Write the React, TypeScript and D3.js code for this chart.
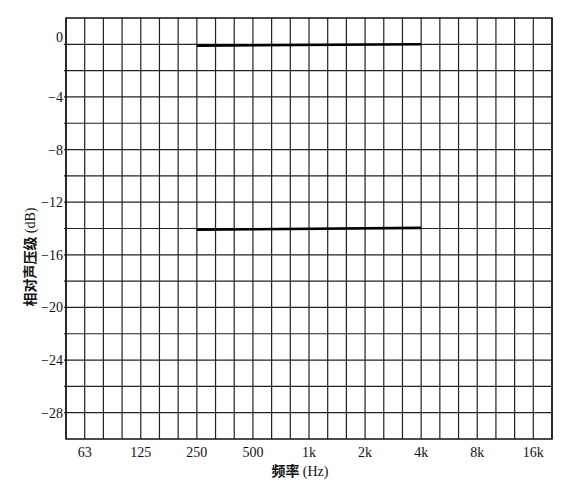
import React from "react";
import * as d3 from "d3";

const bandLabels = ["50","63","80","100","125","160","200","250","315","400","500","630","800","1k","1.25k","1.6k","2k","2.5k","3.15k","4k","5k","6.3k","8k","10k","12.5k","16k","20k"];
const tickBands = ["63","125","250","500","1k","2k","4k","8k","16k"];
const yTicks = [0,-4,-8,-12,-16,-20,-24,-28];
const yGrid = [0,-2,-4,-6,-8,-10,-12,-14,-16,-18,-20,-22,-24,-26,-28];
const lineBands = ["250","4k"];
const upperLevels = [-0.1, 0];
const lowerLevels = [-14.1, -13.95];

const W = 569, H = 481;
const left = 66, right = 552, top = 18, bottom = 439;

export default function App() {
  const x = d3.scalePoint<string>().domain(bandLabels).range([left, right]).padding(0);
  const y = d3.scaleLinear().domain([-30, 2]).range([bottom, top]);
  const line = d3.line<[string, number]>().x(d => x(d[0]) as number).y(d => y(d[1]));
  const serif = "'Liberation Serif', 'DejaVu Serif', serif";
  const cjk = "'Noto Sans CJK SC', sans-serif";
  return (
    <div style={{ position: "absolute", left: 0, top: 0 }}>
      <svg width={W} height={H} style={{ display: "block", background: "#fff" }}>
        {bandLabels.map(b => (
          <line key={b} x1={x(b)} x2={x(b)} y1={top} y2={bottom} stroke="#222" strokeWidth={1.2} />
        ))}
        {yGrid.map(v => (
          <line key={v} x1={left - 2} x2={right} y1={y(v)} y2={y(v)} stroke="#222" strokeWidth={1.2} />
        ))}
        <rect x={left} y={top} width={right - left} height={bottom - top} fill="none" stroke="#111" strokeWidth={1.5} />
        <path d={line(lineBands.map((b, i) => [b, upperLevels[i]]) as any) || ""} fill="none" stroke="#000" strokeWidth={2.6} />
        <path d={line(lineBands.map((b, i) => [b, lowerLevels[i]]) as any) || ""} fill="none" stroke="#000" strokeWidth={2.6} />
        {yTicks.map(v => (
          <text key={v} x={63} y={y(v) + (v === 0 ? -2 : 5)} textAnchor="end" fontFamily={serif} fontSize={14} fill="#111">
            {v === 0 ? "0" : "\u2212" + Math.abs(v)}
          </text>
        ))}
        {tickBands.map(b => (
          <text key={b} x={x(b)} y={457} textAnchor="middle" fontFamily={serif} fontSize={14} fill="#111">{b}</text>
        ))}
        <text x={300} y={476} textAnchor="middle" fontSize={14} fill="#111">
          <tspan fontFamily={cjk} fontWeight="bold">频率 </tspan>
          <tspan fontFamily={serif}>(Hz)</tspan>
        </text>
        <text transform="translate(35,257) rotate(-90)" textAnchor="middle" fontSize={14} fill="#111">
          <tspan fontFamily={cjk} fontWeight="bold">相对声压级 </tspan>
          <tspan fontFamily={serif}>(dB)</tspan>
        </text>
      </svg>
    </div>
  );
}
